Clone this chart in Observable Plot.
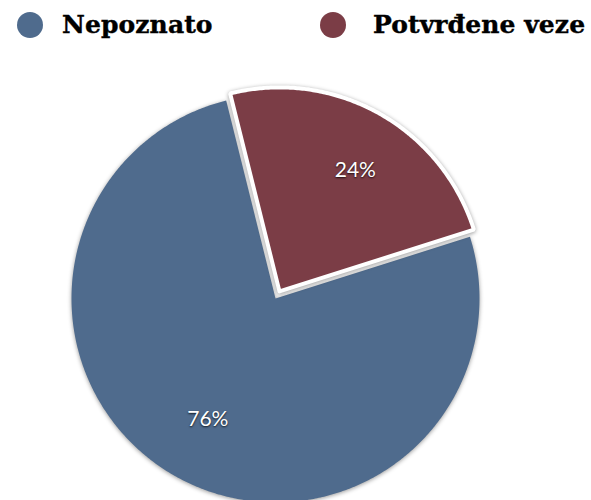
<!DOCTYPE html>
<html>
<head>
<meta charset="utf-8">
<script src="https://cdn.jsdelivr.net/npm/d3@7"></script>
<script src="https://cdn.jsdelivr.net/npm/@observablehq/plot@0.6"></script>
<style>
  body { margin: 0; background: #fff; }
  #legend { position: relative; width: 591px; height: 55px; font-family: "DejaVu Serif", serif; font-weight: bold; font-size: 25px; color: #000; }
  .item { position: absolute; top: 0; height: 55px; }
  .dot { position: absolute; top: 12px; width: 26px; height: 26px; border-radius: 50%; }
  .lab { position: absolute; top: 10px; white-space: nowrap; letter-spacing: 0.1px; -webkit-text-stroke: 0.4px #000; }
  #chart svg path { filter: drop-shadow(0px 1px 2px rgba(0,0,0,0.4)); }
  #chart svg text { text-shadow: 0 1px 2px rgba(0,0,0,0.8); }
</style>
</head>
<body>
<div id="legend"></div>
<div id="chart"></div>
<script>
const categories = ["Nepoznato", "Potvrđene veze"];
const shares = [76, 24];
const colors = ["#4f6b8d", "#7b3d46"];
const labels = ["76%", "24%"];

// legend (HTML, above the SVG)
const legend = document.getElementById("legend");
const legendLeft = [17, 320];
const legendTextOffset = [45, 53];
categories.forEach((c, i) => {
  const it = document.createElement("div");
  it.className = "item";
  it.style.left = legendLeft[i] + "px";
  const d = document.createElement("div");
  d.className = "dot";
  d.style.left = "0px";
  d.style.background = colors[i];
  const t = document.createElement("div");
  t.className = "lab";
  t.style.left = legendTextOffset[i] + "px";
  t.textContent = c;
  it.appendChild(d); it.appendChild(t);
  legend.appendChild(it);
});

// pie geometry (unit radius), red slice first, clockwise from -14°
const order = [1, 0];
const startDeg = -14;
const pie = d3.pie().sort(null).value(i => shares[i])
  .startAngle(startDeg * Math.PI / 180)
  .endAngle(startDeg * Math.PI / 180 + 2 * Math.PI)(order);

const explodeBy = 0.04;
const pts = [];
const labelPts = [];
for (const a of pie) {
  const i = a.data;
  const mid = (a.startAngle + a.endAngle) / 2;
  const off = i === 1 ? explodeBy : 0;
  const ox = Math.sin(mid) * off, oy = Math.cos(mid) * off;
  pts.push({cat: categories[i], x: ox, y: oy});
  const n = Math.ceil((a.endAngle - a.startAngle) / (Math.PI / 360));
  for (let k = 0; k <= n; k++) {
    const t = a.startAngle + (a.endAngle - a.startAngle) * k / n;
    pts.push({cat: categories[i], x: ox + Math.sin(t), y: oy + Math.cos(t)});
  }
  pts.push({cat: categories[i], x: ox, y: oy});
  const lr = i === 1 ? 0.7 : 0.68;
  const la = i === 1 ? mid + 0.05 : mid;
  labelPts.push({cat: categories[i], label: labels[i], x: ox + Math.sin(la) * lr, y: oy + Math.cos(la) * lr});
}

const W = 591, H = 445, R = 204, cx = 275, cy = 243;
const chart = Plot.plot({
  width: W, height: H, margin: 0,
  x: {domain: [-cx / R, (W - cx) / R], axis: null},
  y: {domain: [-(H - cy) / R, cy / R], axis: null},
  color: {domain: categories, range: colors},
  marks: [
    Plot.line(pts.filter(d => d.cat === categories[0]), {x: "x", y: "y", fill: "cat", stroke: "none", curve: "linear"}),
    Plot.line(pts.filter(d => d.cat === categories[1]), {x: "x", y: "y", fill: "cat", stroke: "white", strokeWidth: 4, strokeLinejoin: "miter", curve: "linear"}),
    Plot.text(labelPts, {x: "x", y: "y", text: "label", fill: "white", fontSize: 21, fontFamily: "Lato, sans-serif"})
  ]
});
document.getElementById("chart").appendChild(chart);
</script>
</body>
</html>
